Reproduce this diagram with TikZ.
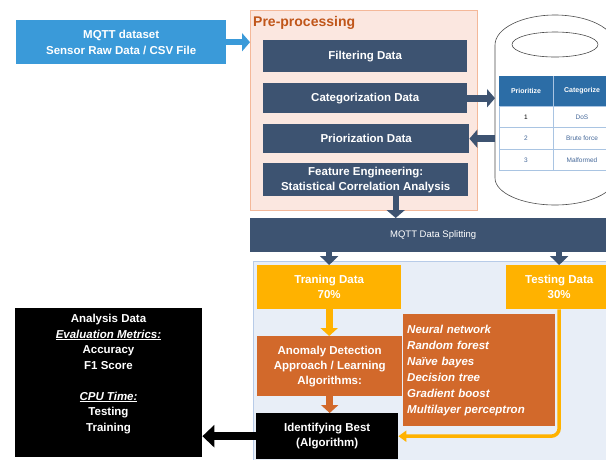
\documentclass[tikz,border=0pt]{standalone}
\usepackage{fontspec}
\setmainfont{Liberation Sans}
\usetikzlibrary{arrows.meta,calc}
\definecolor{srcblue}{HTML}{3A9AD9}
\definecolor{prefill}{HTML}{FBE7E0}
\definecolor{preborder}{HTML}{F4B899}
\definecolor{pretitle}{HTML}{C0561A}
\definecolor{slate}{HTML}{3D5371}
\definecolor{tblhead}{HTML}{2C6DA6}
\definecolor{tblline}{HTML}{A9C4E2}
\definecolor{tbltext}{HTML}{46699A}
\definecolor{areafill}{HTML}{E8EEF7}
\definecolor{areaborder}{HTML}{B7CBE8}
\definecolor{gold}{HTML}{FFB200}
\definecolor{rust}{HTML}{D2692B}
\tikzset{
  box/.style={draw=none, inner sep=0pt, align=center, text=white, anchor=north west,
    font=\bfseries\fontsize{11.5}{15}\selectfont},
  slatebox/.style={box, fill=slate},
  thicktip/.style={-{Triangle[length=8pt,width=18pt]}},
  slatearr/.style={thicktip, draw=slate, line width=7pt},
  cyline/.style={draw=black!70, line width=0.6pt},
  headtxt/.style={font=\bfseries\fontsize{7}{8}\selectfont, text=white, inner sep=0pt},
  celltxt/.style={font=\fontsize{6.5}{8}\selectfont, text=tbltext, inner sep=0pt},
}
\begin{document}
\begin{tikzpicture}[x=1pt,y=-1pt]
\useasboundingbox (0,0) rectangle (606,459);
\clip (0,0) rectangle (606,459);
\fill[white] (0,0) rectangle (606,459);

% source
\node[box, fill=srcblue, minimum width=210pt, minimum height=44pt,
  font=\bfseries\fontsize{11.5}{16}\selectfont] (src) at (16,20)
  {MQTT dataset\\Sensor Raw Data / CSV File};

% pre-processing container
\node[draw=preborder, fill=prefill, line width=0.8pt, anchor=north west,
  minimum width=227pt, minimum height=200pt, inner sep=0pt] (pre) at (250,10) {};
\node[anchor=west, inner sep=0pt, text=pretitle,
  font=\bfseries\fontsize{14}{16}\selectfont] (pretitle) at (253,23) {Pre-processing};

\node[slatebox, minimum width=204pt, minimum height=32pt] (filt) at (263,40) {Filtering Data};
\node[slatebox, minimum width=204pt, minimum height=30pt] (cat) at (263,83) {Categorization Data};
\node[slatebox, minimum width=206pt, minimum height=29pt] (prio) at (263,124) {Priorization Data};
\node[slatebox, minimum width=205pt, minimum height=33pt] (feat) at (263,163)
  {Feature Engineering:\\Statistical Correlation Analysis};

% cylinder
\begin{scope}[shift={(555,45)}, x=1pt, y=1pt]
  \draw[cyline, fill=white] (-60,0) arc[start angle=180,end angle=0,x radius=60,y radius=30]
    -- (60,-133) arc[start angle=0,end angle=-180,x radius=60,y radius=27] -- cycle;
\end{scope}
\draw[cyline] (555,44.5) ellipse[x radius=43, y radius=12.5];
\coordinate (cylL) at (495,100);

% table
\fill[tblhead] (499,76) rectangle (620,106);
\draw[tblline, fill=white, line width=0.5pt] (499,106) rectangle (620,170);
\draw[tblline, line width=0.5pt] (499,127) -- (620,127) (499,149) -- (620,149) (553,76) -- (553,170);
\node[headtxt] (th1) at (526,91) {Prioritize};
\node[headtxt] (th2) at (582,91) {Categorize};
\node[celltxt, text=black] (r11) at (526,117) {1};
\node[celltxt] (r12) at (582,117) {DoS};
\node[celltxt] (r21) at (526,138.5) {2};
\node[celltxt] (r22) at (582,138.5) {Brute force};
\node[celltxt] (r31) at (526,160) {3};
\node[celltxt] (r32) at (582,160) {Malformed};

% splitting bar
\node[slatebox, minimum width=366pt, minimum height=34pt,
  font=\fontsize{9.5}{11}\selectfont] (split) at (250,218) {MQTT Data Splitting};

% light blue area
\node[draw=areaborder, fill=areafill, line width=0.8pt, anchor=north west,
  minimum width=360pt, minimum height=210pt, inner sep=0pt] (area) at (253,261) {};

\node[box, fill=gold, minimum width=144pt, minimum height=44pt] (train) at (257,265) {Traning Data\\70\%};
\node[box, fill=gold, minimum width=106pt, minimum height=44pt] (test) at (506,265) {Testing Data\\30\%};
\node[box, fill=rust, minimum width=145pt, minimum height=60pt] (anom) at (257,336)
  {Anomaly Detection\\Approach / Learning\\Algorithms:};
\node[box, fill=rust, minimum width=152pt, minimum height=112pt, text width=144pt,
  inner xsep=4pt, align=left, font=\bfseries\itshape\fontsize{11.5}{16}\selectfont] (algs) at (403,314)
  {Neural network\\Random forest\\Naïve bayes\\Decision tree\\Gradient boost\\Multilayer perceptron};
\node[box, fill=black, minimum width=142pt, minimum height=46pt] (best) at (256,413)
  {Identifying Best\\(Algorithm)};

% analysis
\node[draw=none, fill=black, anchor=north west, minimum width=187pt, minimum height=149pt,
  inner sep=0pt] (analysis) at (15,308) {};
\node[inner sep=0pt, anchor=north, align=center, text=white,
  font=\bfseries\fontsize{11.5}{15.5}\selectfont] (anatxt) at (108.5,314)
  {Analysis Data\\\underline{\textit{Evaluation Metrics:}}\\Accuracy\\F1 Score\\[15.5pt]\underline{\textit{CPU Time:}}\\Testing\\Training};

% connectors
\draw[thicktip, draw=srcblue, line width=6pt] (src.east) -- (src.east -| pre.west);
\draw[slatearr] (cat.east) -- (cat.east -| cylL);
\draw[slatearr] (prio.east -| cylL) -- (prio.east);
\draw[-{Triangle[length=8pt,width=18pt]}, draw=slate, line width=6pt]
  ([xshift=30pt]feat.south) -- ([xshift=30pt]feat.south |- split.north);
\draw[-{Triangle[length=9pt,width=18pt]}, draw=slate, line width=6pt]
  (train.north |- split.south) -- (train.north);
\draw[-{Triangle[length=9pt,width=18pt]}, draw=slate, line width=6pt]
  (test.north |- split.south) -- (test.north);
\draw[-{Triangle[length=8pt,width=17pt]}, draw=gold, line width=7pt]
  (train.south) -- (train.south |- anom.north);
\draw[-{Triangle[length=8pt,width=17pt]}, draw=rust, line width=7pt]
  (anom.south) -- (anom.south |- best.north);
\draw[-{Triangle[length=8pt,width=11pt]}, draw=gold, line width=3.5pt, rounded corners=8pt]
  (test.south) |- (best.east);
\draw[-{Triangle[length=12pt,width=22pt]}, draw=black, line width=8pt]
  (best.west) -- (best.west -| analysis.east);
\end{tikzpicture}
\end{document}
